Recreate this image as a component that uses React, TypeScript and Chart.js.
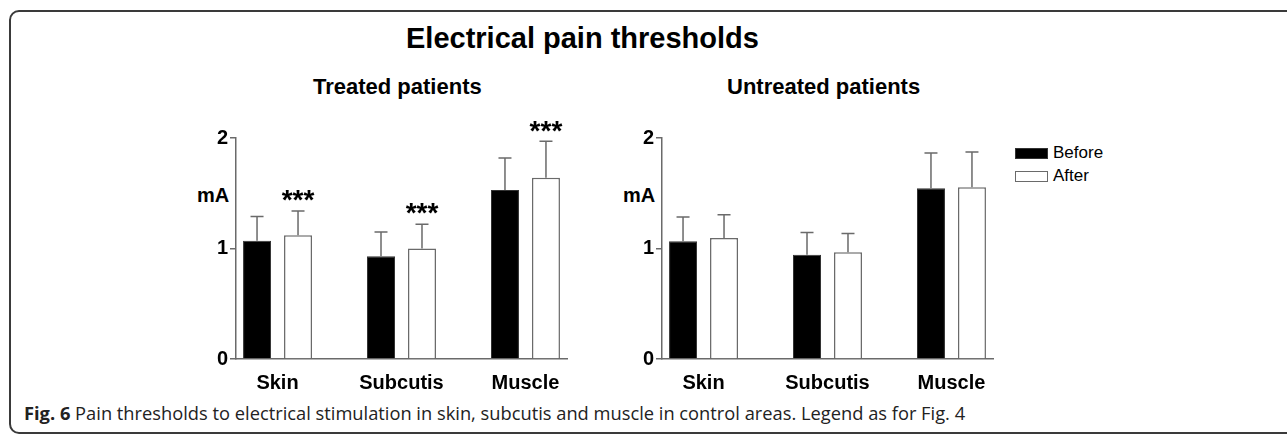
import React, { useEffect, useRef } from 'react';
import { Chart, registerables } from 'chart.js';

Chart.register(...registerables);

const categories = ['Skin', 'Subcutis', 'Muscle'];
const seriesNames = ['Before', 'After'];
const yTicks = [0, 1, 2];

const treatedBefore = [1.07, 0.93, 1.53];
const treatedBeforeErr = [0.22, 0.22, 0.29];
const treatedAfter = [1.12, 1.0, 1.64];
const treatedAfterErr = [0.22, 0.22, 0.33];
const treatedAfterSig = ['***', '***', '***'];

const untreatedBefore = [1.065, 0.944, 1.545];
const untreatedBeforeErr = [0.22, 0.2, 0.32];
const untreatedAfter = [1.095, 0.965, 1.554];
const untreatedAfterErr = [0.21, 0.17, 0.32];
const untreatedAfterSig = ['', '', ''];

const FONT = '"Liberation Sans", Arial, Helvetica, sans-serif';
const AXIS_COLOR = '#6a6a6a';

const errorBarPlugin = {
  id: 'errorBars',
  afterDatasetsDraw(chart: any) {
    const ctx = chart.ctx;
    const yScale = chart.scales.y;
    chart.data.datasets.forEach((ds: any, di: number) => {
      const meta = chart.getDatasetMeta(di);
      meta.data.forEach((bar: any, i: number) => {
        const v = ds.data[i].y;
        const top = yScale.getPixelForValue(v + ds.errors[i]);
        ctx.save();
        ctx.strokeStyle = AXIS_COLOR;
        ctx.lineWidth = 1.5;
        ctx.beginPath();
        ctx.moveTo(bar.x, bar.y);
        ctx.lineTo(bar.x, top);
        ctx.moveTo(bar.x - 6.5, top);
        ctx.lineTo(bar.x + 6.5, top);
        ctx.stroke();
        if (ds.sig && ds.sig[i]) {
          ctx.fillStyle = '#000';
          ctx.font = 'bold 28px ' + FONT;
          ctx.textAlign = 'center';
          ctx.textBaseline = 'alphabetic';
          ctx.fillText(ds.sig[i], bar.x, top - 17.5 + 15.8);
        }
        ctx.restore();
      });
    });
  },
};

type PanelProps = {
  left: number;
  before: number[];
  beforeErr: number[];
  after: number[];
  afterErr: number[];
  sig: string[];
};

function BarPanel({ left, before, beforeErr, after, afterErr, sig }: PanelProps) {
  const ref = useRef<HTMLCanvasElement>(null);
  useEffect(() => {
    const positions = categories.map((_, i) => i);
    const chart = new Chart(ref.current as HTMLCanvasElement, {
      type: 'bar',
      data: {
        datasets: [
          {
            label: seriesNames[0],
            data: positions.map((x, i) => ({ x, y: before[i] })),
            backgroundColor: '#000',
            borderColor: '#333',
            borderWidth: 1,
            errors: beforeErr,
          } as any,
          {
            label: seriesNames[1],
            data: positions.map((x, i) => ({ x, y: after[i] })),
            backgroundColor: '#fff',
            borderColor: AXIS_COLOR,
            borderWidth: 1.5,
            errors: afterErr,
            sig,
          } as any,
        ],
      },
      options: {
        responsive: false,
        animation: false,
        categoryPercentage: 0.6613,
        barPercentage: 0.683,
        layout: { padding: { top: 38, right: 13, left: 0, bottom: 0 } },
        plugins: { legend: { display: false }, tooltip: { enabled: false } },
        scales: {
          x: {
            type: 'linear',
            min: -0.335,
            max: 2.335,
            offset: false,
            afterBuildTicks: (s: any) => {
              s.ticks = positions.map((value) => ({ value }));
            },
            afterFit: (s: any) => {
              s.height = 41;
            },
            ticks: {
              callback: (v: any) => categories[v as number] ?? '',
              font: { family: FONT, size: 20, weight: 'bold' },
              color: '#000',
              padding: 12,
              autoSkip: false,
              maxRotation: 0,
              includeBounds: false,
            },
            grid: { display: false, drawTicks: false, offset: false },
            border: { display: true, color: AXIS_COLOR, width: 1.5 },
          },
          y: {
            min: 0,
            max: 2,
            afterBuildTicks: (s: any) => {
              s.ticks = yTicks.map((value) => ({ value }));
            },
            afterFit: (s: any) => {
              s.width = 56;
            },
            ticks: {
              font: { family: FONT, size: 20, weight: 'bold' },
              color: '#000',
              padding: 2,
            },
            grid: {
              drawOnChartArea: false,
              drawTicks: true,
              tickLength: 6,
              color: AXIS_COLOR,
              lineWidth: 1.5,
            },
            border: { display: true, color: AXIS_COLOR, width: 1.5 },
          },
        },
      } as any,
      plugins: [errorBarPlugin],
    });
    return () => chart.destroy();
  }, []);
  return (
    <canvas
      ref={ref}
      width={400}
      height={300}
      style={{ position: 'absolute', left, top: 100, width: 400, height: 300 }}
    />
  );
}

const txt = (extra: React.CSSProperties): React.CSSProperties => ({
  position: 'absolute',
  fontFamily: FONT,
  color: '#000',
  whiteSpace: 'nowrap',
  margin: 0,
  ...extra,
});

export default function App() {
  return (
    <div
      style={{
        position: 'absolute',
        left: 0,
        top: 0,
        width: 1287,
        height: 434,
        overflow: 'hidden',
        background: '#fff',
      }}
    >
      <div
        style={{
          position: 'absolute',
          left: 9,
          top: 10,
          width: 1320,
          height: 424,
          border: '2px solid #3a3a3a',
          borderRadius: 10,
          boxSizing: 'border-box',
        }}
      />
      <div style={txt({ left: 406, top: 24, fontSize: 29, lineHeight: '29px', fontWeight: 'bold' })}>
        Electrical pain thresholds
      </div>
      <div style={txt({ left: 313, top: 75.5, fontSize: 22, lineHeight: '22px', fontWeight: 'bold' })}>
        Treated patients
      </div>
      <div style={txt({ left: 727, top: 75.5, fontSize: 22, lineHeight: '22px', fontWeight: 'bold' })}>
        Untreated patients
      </div>
      <div style={txt({ left: 197, top: 184.5, fontSize: 20, lineHeight: '20px', fontWeight: 'bold' })}>mA</div>
      <div style={txt({ left: 623, top: 184.5, fontSize: 20, lineHeight: '20px', fontWeight: 'bold' })}>mA</div>

      <BarPanel
        left={180}
        before={treatedBefore}
        beforeErr={treatedBeforeErr}
        after={treatedAfter}
        afterErr={treatedAfterErr}
        sig={treatedAfterSig}
      />
      <BarPanel
        left={606}
        before={untreatedBefore}
        beforeErr={untreatedBeforeErr}
        after={untreatedAfter}
        afterErr={untreatedAfterErr}
        sig={untreatedAfterSig}
      />

      <div
        style={{
          position: 'absolute',
          left: 1015,
          top: 148,
          width: 33,
          height: 11,
          background: '#000',
          border: '1px solid #333',
          boxSizing: 'border-box',
        }}
      />
      <div style={txt({ left: 1053, top: 144, fontSize: 17, lineHeight: '17px' })}>{seriesNames[0]}</div>
      <div
        style={{
          position: 'absolute',
          left: 1015,
          top: 170.5,
          width: 33,
          height: 11,
          background: '#fff',
          border: '1px solid #6a6a6a',
          boxSizing: 'border-box',
        }}
      />
      <div style={txt({ left: 1053, top: 166.5, fontSize: 17, lineHeight: '17px' })}>{seriesNames[1]}</div>

      <div
        style={txt({
          left: 24,
          top: 402,
          fontSize: 18.3,
          lineHeight: '22px',
          fontFamily: '"Open Sans", "Noto Sans", sans-serif',
          color: '#222',
        })}
      >
        <b>Fig. 6</b> Pain thresholds to electrical stimulation in skin, subcutis and muscle in control areas. Legend as
        for Fig. 4
      </div>
    </div>
  );
}
